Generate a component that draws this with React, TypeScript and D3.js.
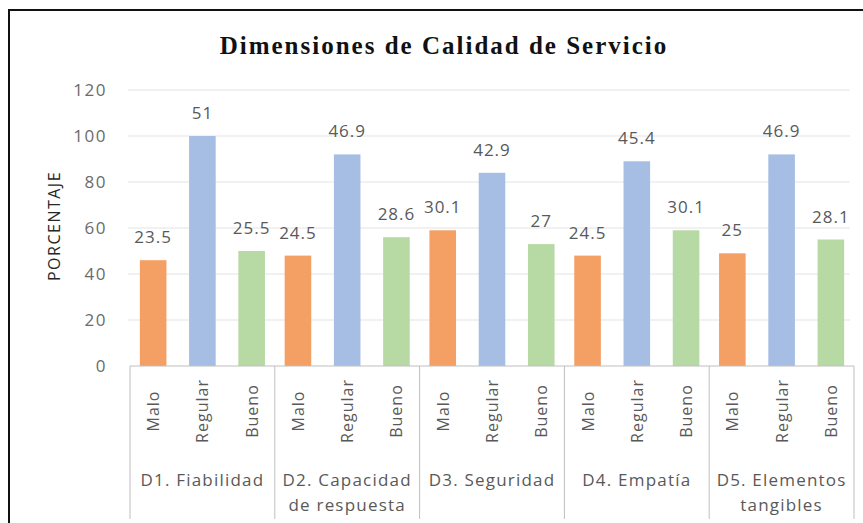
import React, { useEffect, useRef } from "react";
import * as d3 from "d3";

const dimensions = [
  ["D1. Fiabilidad"],
  ["D2. Capacidad", "de respuesta"],
  ["D3. Seguridad"],
  ["D4. Empatía"],
  ["D5. Elementos", "tangibles"],
];
const levels = ["Malo", "Regular", "Bueno"];
// bar heights and the percentage labels printed above them
const malo = [46, 48, 59, 48, 49];
const regular = [100, 92, 84, 89, 92];
const bueno = [50, 56, 53, 59, 55];
const maloLabels = ["23.5", "24.5", "30.1", "24.5", "25"];
const regularLabels = ["51", "46.9", "42.9", "45.4", "46.9"];
const buenoLabels = ["25.5", "28.6", "27", "30.1", "28.1"];
const yTicks = [0, 20, 40, 60, 80, 100, 120];
const colors = ["#F4A064", "#A6BEE4", "#B7D9A4"];

const width = 863;
const height = 523;

export default function App() {
  const ref = useRef<SVGSVGElement>(null);

  useEffect(() => {
    const svg = d3.select(ref.current);
    svg.selectAll("*").remove();

    const left = 130, right = 854, top = 90, bottom = 366;
    const font = "'Open Sans', sans-serif";

    // outer frame (runs off the right and bottom edges)
    svg.append("path")
      .attr("d", `M9,${height + 5} V10 H${width + 5}`)
      .attr("fill", "none")
      .attr("stroke", "#111")
      .attr("stroke-width", 2);

    svg.append("text")
      .attr("x", 444)
      .attr("y", 54)
      .attr("text-anchor", "middle")
      .attr("font-family", "'Liberation Serif', serif")
      .attr("font-weight", "bold")
      .attr("font-size", 25)
      .attr("letter-spacing", 2)
      .attr("fill", "#111")
      .text("Dimensiones de Calidad de Servicio");

    const y = d3.scaleLinear().domain([0, 120]).range([bottom, top]);
    const x0 = d3.scaleBand().domain(dimensions.map(d => d[0])).range([left, right]);
    const x1 = d3.scaleBand().domain(levels).range([0, x0.bandwidth()])
      .paddingInner(0.46).paddingOuter(0.2);

    const g = svg.append("g");

    g.selectAll("line.grid").data(yTicks.filter(t => t > 0)).enter().append("line")
      .attr("x1", 128).attr("x2", 850)
      .attr("y1", d => y(d)).attr("y2", d => y(d))
      .attr("stroke", "#e3e3e3").attr("stroke-width", 1);

    g.selectAll("text.ytick").data(yTicks).enter().append("text")
      .attr("x", 107)
      .attr("y", d => y(d) + 6)
      .attr("text-anchor", "end")
      .attr("font-family", font)
      .attr("font-size", 17)
      .attr("letter-spacing", 1.5)
      .attr("fill", "#6b6b6b")
      .text(d => d);

    svg.append("text")
      .attr("transform", `translate(60,226) rotate(-90)`)
      .attr("text-anchor", "middle")
      .attr("font-family", font)
      .attr("font-size", 16)
      .attr("letter-spacing", 1.5)
      .attr("fill", "#262626")
      .text("PORCENTAJE");

    const series = [malo, regular, bueno];
    const labels = [maloLabels, regularLabels, buenoLabels];
    const rows = dimensions.flatMap((dim, i) =>
      levels.map((lv, j) => ({ dim: dim[0], lv, v: series[j][i], label: labels[j][i], c: colors[j] })));

    g.selectAll("rect.bar").data(rows).enter().append("rect")
      .attr("x", d => (x0(d.dim) ?? 0) + (x1(d.lv) ?? 0))
      .attr("y", d => y(d.v))
      .attr("width", x1.bandwidth())
      .attr("height", d => bottom - y(d.v))
      .attr("fill", d => d.c);

    g.selectAll("text.value").data(rows).enter().append("text")
      .attr("x", d => (x0(d.dim) ?? 0) + (x1(d.lv) ?? 0) + x1.bandwidth() / 2)
      .attr("y", d => y(d.v) - 17)
      .attr("text-anchor", "middle")
      .attr("font-family", font)
      .attr("font-size", 17)
      .attr("letter-spacing", 1)
      .attr("fill", "#595959")
      .text(d => d.label);

    // category axis: baseline and group separators
    g.append("line")
      .attr("x1", left).attr("x2", right)
      .attr("y1", bottom).attr("y2", bottom)
      .attr("stroke", "#bfbfbf");
    const seps = [...dimensions.map(d => x0(d[0]) ?? 0), right];
    g.selectAll("line.sep").data(seps).enter().append("line")
      .attr("x1", d => d).attr("x2", d => d)
      .attr("y1", bottom).attr("y2", 519)
      .attr("stroke", "#bfbfbf");

    g.selectAll("text.level").data(rows).enter().append("text")
      .attr("transform", d => {
        const cx = (x0(d.dim) ?? 0) + (x1(d.lv) ?? 0) + x1.bandwidth() / 2;
        return `translate(${cx + 6},411) rotate(-90)`;
      })
      .attr("text-anchor", "middle")
      .attr("font-family", font)
      .attr("font-size", 16)
      .attr("letter-spacing", 1)
      .attr("fill", "#595959")
      .text(d => d.lv);

    const groups = g.selectAll("text.group").data(dimensions).enter().append("text")
      .attr("x", d => (x0(d[0]) ?? 0) + x0.bandwidth() / 2)
      .attr("y", 486)
      .attr("text-anchor", "middle")
      .attr("font-family", font)
      .attr("font-size", 17)
      .attr("letter-spacing", 1.2)
      .attr("fill", "#595959");
    groups.selectAll("tspan").data(d => d).enter().append("tspan")
      .attr("x", function () {
        return (this.parentNode as SVGTextElement).getAttribute("x");
      })
      .attr("dy", (_, i) => (i === 0 ? 0 : 25))
      .text(d => d);
  }, []);

  return (
    <svg ref={ref} width={width} height={height}
      style={{ position: "absolute", left: 0, top: 0, background: "#fff" }} />
  );
}
